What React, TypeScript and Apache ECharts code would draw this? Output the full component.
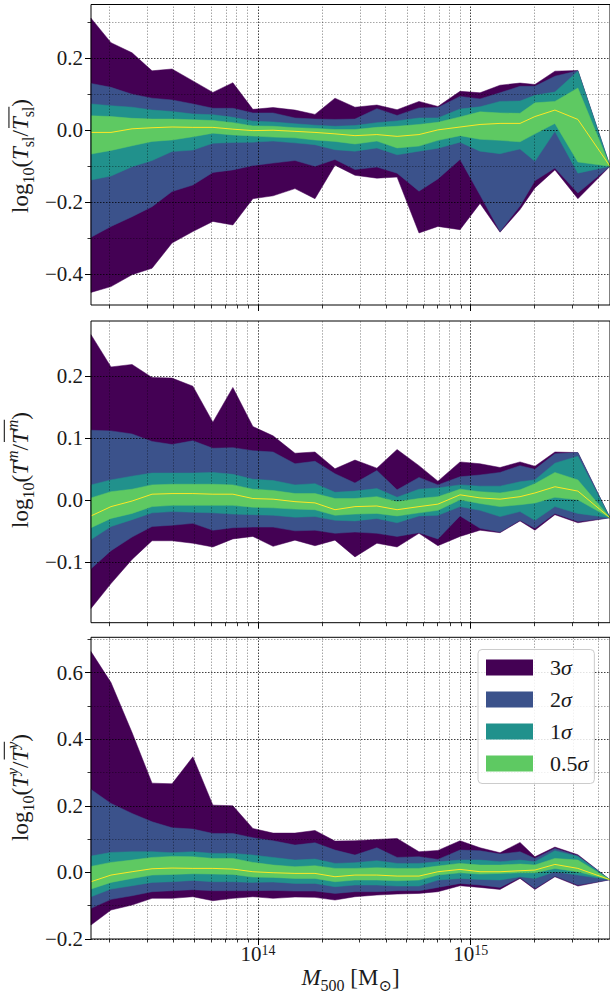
import React, { useEffect, useRef } from "react";
import * as echarts from "echarts";

// log10(M500 / Msun) of each mass bin
const logMass = [13.215, 13.309, 13.408, 13.502, 13.596, 13.694, 13.788, 13.882, 13.976, 14.071, 14.174, 14.268, 14.362, 14.456, 14.559, 14.654, 14.757, 14.846, 14.95, 15.044, 15.138, 15.232, 15.302, 15.396, 15.504, 15.655];

// Panel 1: log10(T_sl / <T_sl>) percentile bands
const slUp3 = [0.311, 0.243, 0.215, 0.165, 0.17, 0.137, 0.105, 0.132, 0.058, 0.063, 0.056, 0.044, 0.089, 0.064, 0.07, 0.057, 0.08, 0.066, 0.108, 0.104, 0.125, 0.131, 0.127, 0.164, 0.166, -0.1];
const slUp2 = [0.13, 0.119, 0.1, 0.089, 0.084, 0.073, 0.061, 0.061, 0.048, 0.048, 0.034, 0.031, 0.03, 0.031, 0.06, 0.041, 0.062, 0.063, 0.094, 0.087, 0.104, 0.122, 0.122, 0.15, 0.165, -0.1];
const slUp1 = [0.073, 0.068, 0.064, 0.056, 0.052, 0.045, 0.043, 0.036, 0.025, 0.023, 0.018, 0.014, 0.011, 0.013, 0.021, 0.026, 0.034, 0.034, 0.059, 0.065, 0.08, 0.081, 0.097, 0.106, 0.164, -0.1];
const slUp05 = [0.04, 0.038, 0.033, 0.031, 0.031, 0.029, 0.027, 0.021, 0.012, 0.011, 0.007, 0.005, 0.002, 0.002, 0.008, 0.011, 0.016, 0.022, 0.037, 0.051, 0.048, 0.047, 0.076, 0.08, 0.117, -0.1];
const slMed = [-0.006, -0.006, 0.004, 0.007, 0.009, 0.008, 0.008, 0.003, -0.001, 0.0, -0.003, -0.006, -0.01, -0.015, -0.012, -0.017, -0.012, 0.001, 0.009, 0.016, 0.019, 0.019, 0.038, 0.056, 0.03, -0.1];
const slLo05 = [-0.066, -0.056, -0.043, -0.031, -0.027, -0.018, -0.008, -0.013, -0.016, -0.019, -0.021, -0.027, -0.031, -0.038, -0.03, -0.049, -0.044, -0.028, -0.015, -0.025, -0.028, -0.032, -0.01, 0.019, -0.088, -0.1];
const slLo1 = [-0.138, -0.127, -0.101, -0.084, -0.059, -0.055, -0.036, -0.034, -0.033, -0.03, -0.035, -0.04, -0.054, -0.058, -0.049, -0.068, -0.058, -0.05, -0.033, -0.058, -0.065, -0.052, -0.086, -0.003, -0.119, -0.1];
const slLo2 = [-0.297, -0.267, -0.24, -0.212, -0.17, -0.152, -0.117, -0.11, -0.098, -0.091, -0.084, -0.1, -0.081, -0.109, -0.102, -0.119, -0.169, -0.135, -0.081, -0.18, -0.281, -0.21, -0.14, -0.105, -0.174, -0.1];
const slLo3 = [-0.45, -0.434, -0.401, -0.383, -0.313, -0.281, -0.253, -0.263, -0.19, -0.182, -0.162, -0.19, -0.097, -0.125, -0.133, -0.13, -0.285, -0.267, -0.276, -0.203, -0.283, -0.22, -0.16, -0.11, -0.19, -0.1];

// Panel 2: log10(T^m / <T^m>)
const mUp3 = [0.267, 0.215, 0.219, 0.198, 0.197, 0.184, 0.126, 0.182, 0.119, 0.104, 0.076, 0.078, 0.051, 0.065, 0.052, 0.082, 0.056, 0.031, 0.062, 0.059, 0.053, 0.062, 0.055, 0.078, 0.077, -0.028];
const mUp2 = [0.113, 0.112, 0.107, 0.095, 0.09, 0.096, 0.084, 0.085, 0.08, 0.078, 0.059, 0.063, 0.043, 0.028, 0.048, 0.017, 0.037, 0.025, 0.038, 0.041, 0.045, 0.056, 0.05, 0.075, 0.077, -0.028];
const mUp1 = [0.025, 0.033, 0.039, 0.044, 0.044, 0.044, 0.045, 0.042, 0.034, 0.032, 0.025, 0.027, 0.013, 0.015, 0.019, 0.005, 0.018, 0.02, 0.025, 0.023, 0.023, 0.03, 0.033, 0.06, 0.071, -0.028];
const mUp05 = [0.004, 0.014, 0.018, 0.025, 0.026, 0.026, 0.026, 0.025, 0.018, 0.016, 0.011, 0.011, 0.003, 0.003, 0.006, -0.002, 0.003, 0.006, 0.018, 0.014, 0.012, 0.017, 0.027, 0.045, 0.033, -0.028];
const mMed = [-0.025, -0.01, -0.001, 0.01, 0.011, 0.011, 0.01, 0.01, 0.003, 0.002, -0.002, -0.004, -0.015, -0.01, -0.009, -0.015, -0.01, -0.006, 0.009, 0.004, 0.002, 0.006, 0.012, 0.022, 0.015, -0.028];
const mLo05 = [-0.044, -0.029, -0.021, -0.01, -0.008, -0.008, -0.008, -0.008, -0.011, -0.012, -0.014, -0.015, -0.024, -0.022, -0.021, -0.025, -0.02, -0.016, 0.001, -0.005, -0.01, -0.007, -0.004, 0.005, 0.001, -0.028];
const mLo1 = [-0.063, -0.042, -0.031, -0.02, -0.018, -0.019, -0.02, -0.022, -0.023, -0.024, -0.027, -0.026, -0.032, -0.033, -0.029, -0.036, -0.025, -0.024, -0.01, -0.016, -0.026, -0.018, -0.032, -0.01, -0.021, -0.028];
const mLo2 = [-0.11, -0.081, -0.059, -0.042, -0.04, -0.037, -0.048, -0.044, -0.043, -0.043, -0.049, -0.048, -0.053, -0.051, -0.053, -0.058, -0.052, -0.062, -0.025, -0.045, -0.051, -0.032, -0.045, -0.021, -0.034, -0.028];
const mLo3 = [-0.174, -0.134, -0.095, -0.065, -0.065, -0.069, -0.075, -0.062, -0.058, -0.074, -0.064, -0.073, -0.064, -0.091, -0.069, -0.075, -0.053, -0.073, -0.058, -0.048, -0.052, -0.033, -0.048, -0.023, -0.036, -0.028];

// Panel 3: log10(T^y / <T^y>)
const yUp3 = [0.663, 0.57, 0.42, 0.268, 0.266, 0.347, 0.202, 0.2, 0.132, 0.118, 0.118, 0.126, 0.094, 0.095, 0.099, 0.102, 0.062, 0.066, 0.095, 0.074, 0.059, 0.09, 0.047, 0.076, 0.053, -0.022];
const yUp2 = [0.249, 0.207, 0.177, 0.152, 0.134, 0.13, 0.117, 0.117, 0.104, 0.095, 0.082, 0.089, 0.067, 0.052, 0.074, 0.045, 0.047, 0.039, 0.067, 0.065, 0.055, 0.062, 0.042, 0.072, 0.05, -0.022];
const yUp1 = [0.049, 0.06, 0.062, 0.062, 0.059, 0.062, 0.057, 0.057, 0.052, 0.045, 0.037, 0.04, 0.027, 0.029, 0.035, 0.027, 0.027, 0.032, 0.037, 0.037, 0.032, 0.037, 0.032, 0.065, 0.048, -0.022];
const yUp05 = [0.018, 0.03, 0.037, 0.045, 0.048, 0.047, 0.042, 0.042, 0.03, 0.022, 0.017, 0.02, 0.012, 0.012, 0.014, 0.012, 0.012, 0.019, 0.027, 0.022, 0.022, 0.025, 0.022, 0.042, 0.037, -0.022];
const yMed = [-0.028, -0.008, 0.002, 0.011, 0.013, 0.012, 0.012, 0.01, 0.002, -0.001, -0.003, -0.003, -0.013, -0.008, -0.008, -0.011, -0.011, 0.002, 0.009, 0.002, 0.002, 0.005, 0.007, 0.024, 0.012, -0.022];
const yLo05 = [-0.05, -0.03, -0.018, -0.008, -0.006, -0.004, -0.005, -0.006, -0.014, -0.015, -0.018, -0.018, -0.028, -0.023, -0.023, -0.025, -0.023, -0.008, -0.001, -0.005, -0.003, -0.001, -0.001, 0.012, 0.002, -0.022];
const yLo1 = [-0.073, -0.05, -0.04, -0.03, -0.028, -0.024, -0.028, -0.028, -0.03, -0.029, -0.033, -0.033, -0.043, -0.038, -0.038, -0.041, -0.041, -0.023, -0.018, -0.021, -0.023, -0.013, -0.018, 0.002, -0.008, -0.022];
const yLo2 = [-0.108, -0.081, -0.07, -0.058, -0.055, -0.052, -0.055, -0.055, -0.055, -0.054, -0.056, -0.056, -0.063, -0.058, -0.058, -0.055, -0.055, -0.045, -0.033, -0.038, -0.045, -0.015, -0.048, -0.011, -0.038, -0.022];
const yLo3 = [-0.158, -0.113, -0.098, -0.078, -0.078, -0.073, -0.085, -0.078, -0.073, -0.078, -0.074, -0.075, -0.083, -0.073, -0.068, -0.065, -0.063, -0.058, -0.04, -0.045, -0.051, -0.018, -0.051, -0.013, -0.041, -0.022];

const bandNames = ["3σ", "2σ", "1σ", "0.5σ"];
const bandColors = ["#440154", "#3b528b", "#21918c", "#5ec962"];
const medianColor = "#fde725";

// axis ranges and ticks
const xMin = 13.215;
const xMax = 15.655;
const xMajor = [14, 15];
const xMinor: number[] = [];
for (const d of [13, 14, 15]) {
  for (let k = 2; k <= 9; k++) {
    const v = d + Math.log10(k);
    if (v > xMin && v < xMax) xMinor.push(v);
  }
}

const FONT = '"Liberation Serif", "DejaVu Serif", serif';
const INK = "#1a1a1a";
const MAIN = 23;
const SMALL = 16;

type Tok = { t: string; size: number; italic?: boolean; dy?: number; over?: boolean };
const txt = (t: string, italic = false): Tok => ({ t, size: MAIN, italic });
const sub = (t: string, italic = false): Tok => ({ t, size: SMALL, italic, dy: 0.24 * MAIN });
const sup = (t: string, italic = false): Tok => ({ t, size: SMALL, italic, dy: -0.42 * MAIN });
const ov = (k: Tok): Tok => ({ ...k, over: true });

const labelSl: Tok[] = [txt("log"), sub("10"), txt("("), txt("T", true), sub("sl"), txt("/"), ov(txt("T", true)), ov(sub("sl")), txt(")")];
const labelM: Tok[] = [txt("log"), sub("10"), txt("("), txt("T", true), sup("m", true), txt("/"), ov(txt("T", true)), ov(sup("m", true)), txt(")")];
const labelY: Tok[] = [txt("log"), sub("10"), txt("("), txt("T", true), sup("y", true), txt("/"), ov(txt("T", true)), ov(sup("y", true)), txt(")")];
const labelX: Tok[] = [txt("M", true), sub("500"), txt(" [M"), sub("⊙"), txt("]")];

const panels = [
  { up: [slUp3, slUp2, slUp1, slUp05], lo: [slLo3, slLo2, slLo1, slLo05], med: slMed, yMin: -0.485, yMax: 0.349, yMajor: [-0.4, -0.2, 0, 0.2], yMinor: [-0.3, -0.1, 0.1, 0.3], label: labelSl, top: 4.5, height: 300.5, labelY: 156 },
  { up: [mUp3, mUp2, mUp1, mUp05], lo: [mLo3, mLo2, mLo1, mLo05], med: mMed, yMin: -0.197, yMax: 0.289, yMajor: [-0.1, 0, 0.1, 0.2], yMinor: [] as number[], label: labelM, top: 321, height: 301.7, labelY: 470 },
  { up: [yUp3, yUp2, yUp1, yUp05], lo: [yLo3, yLo2, yLo1, yLo05], med: yMed, yMin: -0.2, yMax: 0.706, yMajor: [-0.2, 0, 0.2, 0.4, 0.6], yMinor: [-0.1, 0.1, 0.3, 0.5, 0.7], label: labelY, top: 637.3, height: 301.7, labelY: 787.5 },
];

let measureCtx: CanvasRenderingContext2D | null = null;
function measure(t: string, size: number, italic?: boolean) {
  if (!measureCtx) measureCtx = document.createElement("canvas").getContext("2d");
  measureCtx!.font = `${italic ? "italic " : ""}${size}px ${FONT}`;
  return measureCtx!.measureText(t).width;
}

// lays out a small math expression along a baseline at (x, y)
function mathText(toks: Tok[], x: number, y: number, rotation: number) {
  const widths = toks.map((k) => measure(k.t, k.size, k.italic));
  const total = widths.reduce((a, b) => a + b, 0);
  let cx = -total / 2;
  const children: any[] = [];
  let o0 = Infinity;
  let o1 = -Infinity;
  let oy = 0;
  toks.forEach((k, i) => {
    const dy = k.dy || 0;
    children.push({
      type: "text",
      x: cx,
      y: dy - 0.3375 * k.size,
      style: {
        text: k.t,
        fontSize: k.size,
        fontFamily: FONT,
        fontStyle: k.italic ? "italic" : "normal",
        fill: INK,
        align: "left",
        verticalAlign: "middle",
      },
    });
    if (k.over) {
      o0 = Math.min(o0, cx + (k.italic ? 2 : 0));
      o1 = Math.max(o1, cx + widths[i]);
      oy = Math.min(oy, dy - 0.72 * k.size);
    }
    cx += widths[i];
  });
  if (o1 > o0) {
    children.push({ type: "line", shape: { x1: o0, y1: oy - 2.5, x2: o1, y2: oy - 2.5 }, style: { stroke: INK, lineWidth: 1.1 } });
  }
  return { type: "group", x, y, rotation, silent: true, children };
}

const majorGrid = { color: "rgba(0,0,0,0.75)", width: 1, type: [1.5, 1.5] };
const minorGrid = { color: "rgba(0,0,0,0.35)", width: 1, type: [1.5, 1.5] };

const fmtY = (v: number) => {
  const s = Math.abs(v).toFixed(1);
  return v < -1e-9 ? "\u2212" + s : s;
};

function buildOption() {
  const grid = panels.map((p) => ({ left: 91, width: 519, top: p.top, height: p.height, show: true, borderColor: "#000", borderWidth: 1, z: 20 }));

  const xAxis: any[] = [];
  const yAxis: any[] = [];
  panels.forEach((p, g) => {
    xAxis.push({
      type: "value", gridIndex: g, min: xMin, max: xMax, position: "bottom", z: 21,
      axisLine: { show: false, onZero: false }, splitLine: { show: false },
      axisTick: { show: true, customValues: xMajor, length: 6, lineStyle: { color: "#000", width: 1 } },
      axisLabel: g === 2
        ? {
            show: true, customValues: xMajor, margin: 4, color: INK,
            formatter: (v: number) => `{b|10}{s|${Math.round(v)}}`,
            rich: {
              b: { fontSize: 21, fontFamily: FONT, color: INK, lineHeight: 22 },
              s: { fontSize: 14, fontFamily: FONT, color: INK, verticalAlign: "top", lineHeight: 15 },
            },
          }
        : { show: false },
    });
    xAxis.push({
      type: "value", gridIndex: g, min: xMin, max: xMax, position: "bottom", z: 21,
      axisLine: { show: false, onZero: false }, splitLine: { show: false },
      axisTick: { show: true, customValues: xMinor, length: 3.5, lineStyle: { color: "#000", width: 0.8 } },
      axisLabel: { show: false },
    });
    yAxis.push({
      type: "value", gridIndex: g, min: p.yMin, max: p.yMax, position: "left", z: 21,
      axisLine: { show: false, onZero: false }, splitLine: { show: false },
      axisTick: { show: true, customValues: p.yMajor, length: 6, lineStyle: { color: "#000", width: 1 } },
      axisLabel: { show: true, customValues: p.yMajor, margin: 8, fontSize: 21, fontFamily: FONT, color: INK, formatter: fmtY },
    });
    yAxis.push({
      type: "value", gridIndex: g, min: p.yMin, max: p.yMax, position: "left", z: 21,
      axisLine: { show: false, onZero: false }, splitLine: { show: false },
      axisTick: p.yMinor.length
        ? { show: true, customValues: p.yMinor, length: 3.5, lineStyle: { color: "#000", width: 0.8 } }
        : { show: false },
      axisLabel: { show: false },
    });
  });

  const series: any[] = [];
  panels.forEach((p, g) => {
    bandNames.forEach((name, b) => {
      const up = p.up[b];
      const lo = p.lo[b];
      const color = bandColors[b];
      series.push({
        type: "custom",
        name,
        coordinateSystem: "cartesian2d",
        xAxisIndex: 2 * g,
        yAxisIndex: 2 * g,
        z: 2 + b,
        silent: true,
        itemStyle: { color },
        data: logMass.map((x, i) => [x, lo[i], up[i]]),
        encode: { x: 0, y: [1, 2] },
        renderItem: (params: any, api: any) => {
          if (params.dataIndex !== 0) return null;
          const pts: number[][] = [];
          for (let i = 0; i < logMass.length; i++) pts.push(api.coord([logMass[i], up[i]]));
          for (let i = logMass.length - 1; i >= 0; i--) pts.push(api.coord([logMass[i], lo[i]]));
          return { type: "polygon", shape: { points: pts }, style: { fill: color, stroke: color, lineWidth: 0.5 } };
        },
      });
    });
    series.push({
      type: "line",
      name: "median",
      xAxisIndex: 2 * g,
      yAxisIndex: 2 * g,
      z: 8,
      silent: true,
      symbol: "none",
      lineStyle: { color: medianColor, width: 1 },
      data: logMass.map((x, i) => [x, p.med[i]]),
      markLine: {
        silent: true,
        symbol: ["none", "none"],
        label: { show: false },
        emphasis: { disabled: true },
        data: [
          ...xMinor.map((v) => ({ xAxis: v, lineStyle: minorGrid })),
          ...xMajor.map((v) => ({ xAxis: v, lineStyle: majorGrid })),
          ...p.yMinor.map((v) => ({ yAxis: v, lineStyle: minorGrid })),
          ...p.yMajor.map((v) => ({ yAxis: v, lineStyle: majorGrid })),
        ],
      },
    });
  });

  const graphic: any[] = panels.map((p) => mathText(p.label, 28, p.labelY, Math.PI / 2));
  graphic.push(mathText(labelX, 350.5, 985, 0));

  return {
    animation: false,
    textStyle: { fontFamily: FONT, color: INK },
    grid,
    xAxis,
    yAxis,
    series,
    graphic,
    legend: {
      data: bandNames,
      orient: "vertical",
      left: 478,
      top: 649.5,
      padding: [7, 6, 9, 8],
      itemWidth: 47,
      itemHeight: 16,
      itemGap: 10,
      icon: "rect",
      selectedMode: false,
      z: 30,
      backgroundColor: "rgba(255,255,255,0.85)",
      borderColor: "#cccccc",
      borderWidth: 1,
      borderRadius: 4,
      formatter: (name: string) => `{n|${name.slice(0, -1)}}{s|σ}`,
      textStyle: {
        fontFamily: FONT,
        fontSize: 22,
        color: INK,
        rich: {
          n: { fontSize: 22, fontFamily: FONT, color: INK, padding: [0, 0, 0, 12] },
          s: { fontSize: 22, fontFamily: FONT, color: INK, fontStyle: "italic" },
        },
      },
    },
  };
}

export default function App() {
  const ref = useRef<HTMLDivElement>(null);
  useEffect(() => {
    if (!ref.current) return;
    const chart = echarts.init(ref.current, undefined, { renderer: "svg" });
    chart.setOption(buildOption() as any);
    return () => chart.dispose();
  }, []);
  return <div ref={ref} style={{ position: "absolute", left: 0, top: 0, width: 610, height: 994, background: "#fff" }} />;
}
